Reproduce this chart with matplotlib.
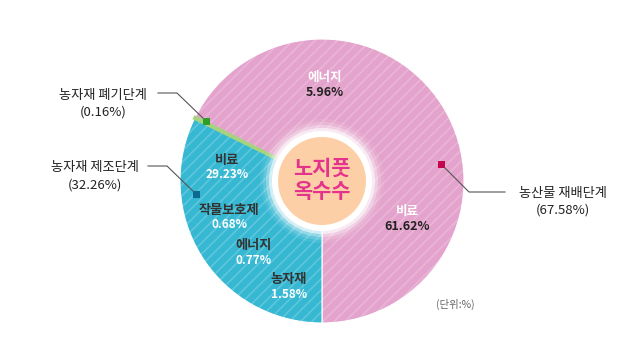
import matplotlib.pyplot as plt
from matplotlib.patches import Circle, Rectangle

plt.rcParams['font.family'] = ['Noto Sans CJK KR', 'DejaVu Sans']
plt.rcParams['hatch.linewidth'] = 1.2

# data
stages = ['농산물 재배단계', '농자재 폐기단계', '농자재 제조단계']
stage_shares = [67.58, 0.16, 32.26]
stage_colors = ['#E4A3CC', '#A6D47E', '#36B8D3']
marker_colors = ['#C4064F', '#2E9E2A', '#0C6A91']

farm_items = ['에너지', '비료']
farm_values = [5.96, 61.62]
mat_items = ['비료', '작물보호제', '에너지', '농자재']
mat_values = [29.23, 0.68, 0.77, 1.58]

W, H = 631, 363
fig = plt.figure(figsize=(W / 100, H / 100), dpi=100)
ax = fig.add_axes([0, 0, 1, 1])


def py(y):
    # pixel row (from top) -> data y
    return H - y


cx, cy, R = 322, py(181), 142

wedges, _ = ax.pie(stage_shares, colors=stage_colors, startangle=-90, counterclock=True,
                   radius=R, center=(cx, cy), frame=True,
                   wedgeprops=dict(edgecolor='white', linewidth=0.8))
# make the tiny disposal slice visible as a thin band, kept inside the disc
wedges[1].set_edgecolor(stage_colors[1])
wedges[1].set_linewidth(2.2)
wedges[1].set_zorder(3)
clip = Circle((cx, cy), R, transform=ax.transData)
wedges[1].set_clip_path(clip)
# light diagonal stripes
ax.pie(stage_shares, colors=['none'] * 3, startangle=-90, counterclock=True,
       radius=R, center=(cx, cy), frame=True,
       wedgeprops=dict(edgecolor=(1, 1, 1, 0.2), linewidth=0, hatch='///'))
ax.set_xlim(0, W)
ax.set_ylim(0, H)
ax.set_aspect('equal')
ax.axis('off')

# centre glow + circle
for r, a in [(62, 0.08), (59, 0.15), (56, 0.3), (53, 0.6)]:
    ax.add_patch(Circle((cx, cy), r, color='white', alpha=a, lw=0, zorder=5))
ax.add_patch(Circle((cx, cy), 50, color='white', lw=0, zorder=6))
ax.add_patch(Circle((cx, cy), 44, color='#FDCFA6', lw=0, zorder=7))
ax.text(cx, cy + 1, '노지풋\n옥수수', ha='center', va='center', fontsize=15,
        fontweight='bold', color='#E4338D', linespacing=1.1, zorder=8)

# labels inside slices
dark, light = '#222222', 'white'
farm_pos = [(325, 78), (407, 212)]
for name, val, (x, y) in zip(farm_items, farm_values, farm_pos):
    ax.text(x, py(y), name, ha='center', va='center', fontsize=9, color=light, fontweight='bold')
    ax.text(x, py(y + 15), f'{val:.2f}%', ha='center', va='center', fontsize=9,
            color=dark, fontweight='bold')

mat_pos = [(227, 160), (229, 210), (254, 245), (289, 279)]
for name, val, (x, y) in zip(mat_items, mat_values, mat_pos):
    ax.text(x, py(y), name, ha='center', va='center', fontsize=9.5, color='#333333', fontweight='bold')
    ax.text(x, py(y + 15), f'{val:.2f}%', ha='center', va='center', fontsize=8.5,
            color=light, fontweight='bold')

# callouts
callouts = [
    # label centre, polyline points (pixel), marker position
    ((563, 193), [(505, 192), (469, 192), (441, 164)], (441, 164)),
    ((103, 95), [(158, 93), (177, 93), (206, 121)], (206, 121)),
    ((95, 168), [(148, 166), (167, 166), (196, 194)], (196, 194)),
]
for stage, share, mcol, (lab, pts, mk) in zip(stages, stage_shares, marker_colors, callouts):
    ax.plot([p[0] for p in pts], [py(p[1]) for p in pts], color='#555555', lw=0.8, zorder=9)
    ax.add_patch(Rectangle((mk[0] - 3.5, py(mk[1]) - 3.5), 7, 7, color=mcol, lw=0, zorder=10))
    ax.text(lab[0], py(lab[1]), stage, ha='center', va='center', fontsize=9.5,
            color='#222222', fontweight='medium')
    ax.text(lab[0], py(lab[1] + 17), f'({share:.2f}%)', ha='center', va='center',
            fontsize=9.5, color='#222222', fontweight='medium')

ax.text(455, py(304), '(단위:%)', ha='center', va='center', fontsize=7.5, color='#666666')

fig.savefig('out.png', dpi=100)
